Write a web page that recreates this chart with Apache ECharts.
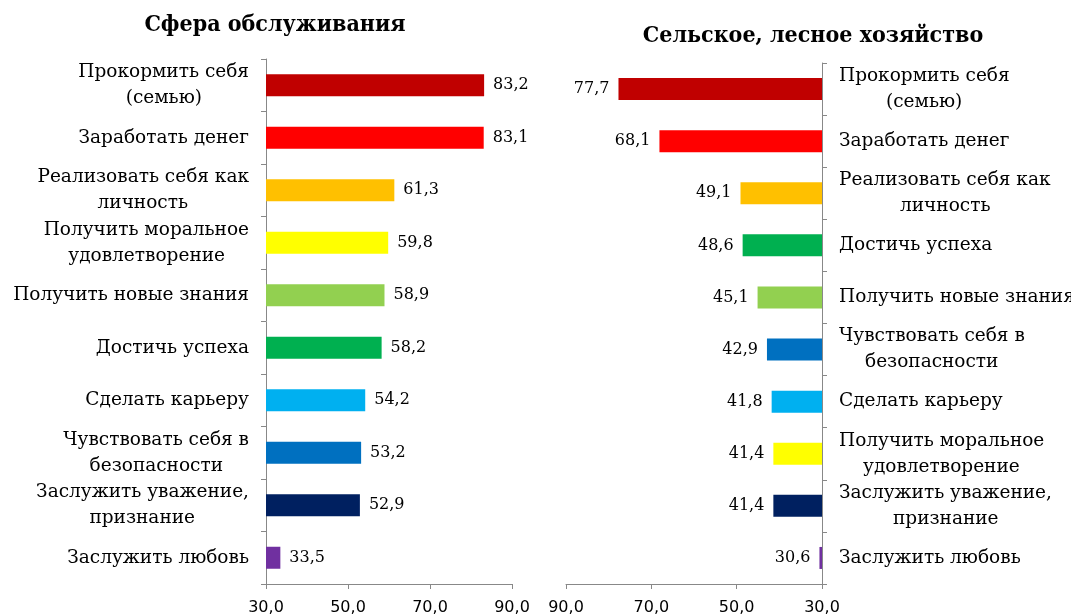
<!DOCTYPE html>
<html>
<head>
<meta charset="utf-8">
<title>Мотивы труда</title>
<script src="https://cdn.jsdelivr.net/npm/echarts@6/dist/echarts.min.js"></script>
<style>html,body{margin:0;background:#fff}#main{width:1071px;height:616px}</style>
</head>
<body>
<div id="main"></div>
<script>
// left panel: service sector, top to bottom
var serviceCats = ['Прокормить себя\n(семью)', 'Заработать денег', 'Реализовать себя как\nличность',
  'Получить моральное\nудовлетворение', 'Получить новые знания', 'Достичь успеха', 'Сделать карьеру',
  'Чувствовать себя в\nбезопасности', 'Заслужить уважение,\nпризнание', 'Заслужить любовь'];
var serviceVals = [83.2, 83.1, 61.3, 59.8, 58.9, 58.2, 54.2, 53.2, 52.9, 33.5];
var serviceColors = ['#C00000', '#FF0000', '#FFC000', '#FFFF00', '#92D050', '#00B050', '#00B0F0', '#0070C0', '#002060', '#7030A0'];

// right panel: agriculture, forestry
var agriCats = ['Прокормить себя\n(семью)', 'Заработать денег', 'Реализовать себя как\nличность',
  'Достичь успеха', 'Получить новые знания', 'Чувствовать себя в\nбезопасности', 'Сделать карьеру',
  'Получить моральное\nудовлетворение', 'Заслужить уважение,\nпризнание', 'Заслужить любовь'];
var agriVals = [77.7, 68.1, 49.1, 48.6, 45.1, 42.9, 41.8, 41.4, 41.4, 30.6];
var agriColors = ['#C00000', '#FF0000', '#FFC000', '#00B050', '#92D050', '#0070C0', '#00B0F0', '#FFFF00', '#002060', '#7030A0'];

var titles = ['Сфера обслуживания', 'Сельское, лесное хозяйство'];
var axisMin = 30, axisMax = 90, axisStep = 20;

var catSize = 18.5, catFamily = 'DejaVu Serif';
var ctx = document.createElement('canvas').getContext('2d');
ctx.font = catSize + 'px "' + catFamily + '"';

// lines of a two-line label are centred on each other: shorter lines get
// half the missing width as padding on the side away from the axis anchor
function richFor(cats, p, side) {
  var rich = {};
  cats.forEach(function (c, i) {
    var lines = c.split('\n');
    var ws = lines.map(function (l) { return ctx.measureText(l).width; });
    var W = Math.max.apply(null, ws);
    lines.forEach(function (l, j) {
      var pad = Math.round((W - ws[j]) / 2);
      rich[p + i + '_' + j] = {fontSize: catSize, fontFamily: catFamily, lineHeight: 26, color: '#000',
        padding: side === 'left' ? [0, pad, 0, 0] : [0, 0, 0, pad]};
    });
  });
  return rich;
}
function catFormatter(p) {
  return function (v, i) {
    return v.split('\n').map(function (l, j) { return '{' + p + i + '_' + j + '|' + l + '}'; }).join('\n');
  };
}
function num(v) { return v.toFixed(1).replace('.', ','); }

function xAx(idx, inverse) {
  return {
    type: 'value', gridIndex: idx, min: axisMin, max: axisMax, interval: axisStep, inverse: inverse,
    splitLine: {show: false},
    axisLine: {show: true, lineStyle: {color: '#888', width: 1}},
    axisTick: {show: true, length: 5, lineStyle: {color: '#888'}},
    axisLabel: {margin: 16, fontFamily: 'DejaVu Sans', fontSize: 16, color: '#000', formatter: num}
  };
}
function yAx(idx, cats, pos, p) {
  return {
    type: 'category', gridIndex: idx, data: cats, inverse: true, position: pos,
    axisLine: {lineStyle: {color: '#888', width: 1}},
    axisTick: {show: true, length: 5, lineStyle: {color: '#888'}},
    axisLabel: {interval: 0, margin: 17, formatter: catFormatter(p), rich: richFor(cats, p, pos)}
  };
}
function barData(vals, colors) {
  return vals.map(function (v, i) { return {value: v, itemStyle: {color: colors[i]}}; });
}
var valLabel = {show: true, distance: 9, fontFamily: 'DejaVu Serif', fontSize: 16, color: '#000',
  formatter: function (p) { return num(p.value); }};
var titleStyle = {fontFamily: 'DejaVu Serif Condensed', fontWeight: 'bold', fontSize: 23, color: '#000'};

var chart = echarts.init(document.getElementById('main'));
chart.setOption({
  animation: false,
  title: [
    {text: titles[0], left: 270, top: 9, textAlign: 'center', textStyle: titleStyle},
    {text: titles[1], left: 808, top: 20, textAlign: 'center', textStyle: titleStyle}
  ],
  grid: [
    {left: 266, top: 59, width: 246, height: 525, containLabel: false, outerBoundsMode: 'none'},
    {left: 566, top: 63, width: 256, height: 521, containLabel: false, outerBoundsMode: 'none'}
  ],
  xAxis: [xAx(0, false), xAx(1, true)],
  yAxis: [yAx(0, serviceCats, 'left', 's'), yAx(1, agriCats, 'right', 'a')],
  series: [
    {type: 'bar', xAxisIndex: 0, yAxisIndex: 0, barWidth: 22, data: barData(serviceVals, serviceColors),
      label: Object.assign({position: 'right'}, valLabel)},
    {type: 'bar', xAxisIndex: 1, yAxisIndex: 1, barWidth: 22, data: barData(agriVals, agriColors),
      label: Object.assign({position: 'left'}, valLabel)}
  ]
});
</script>
</body>
</html>
